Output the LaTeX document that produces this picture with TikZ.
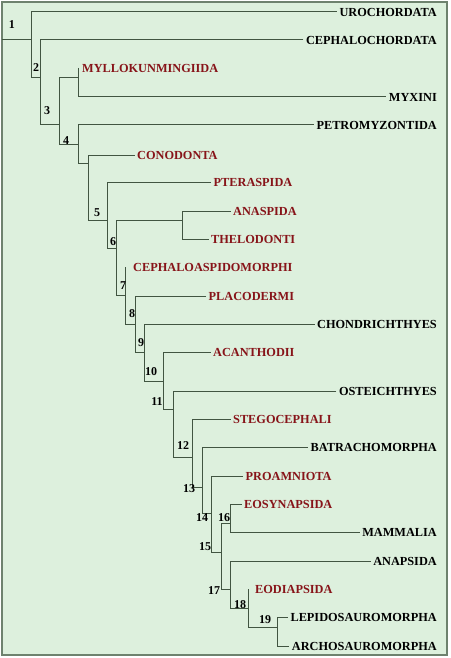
\documentclass[tikz,border=0pt]{standalone}
\usepackage{fontspec}
\setmainfont{Liberation Serif}
\definecolor{bgcol}{RGB}{221,240,221}
\definecolor{framecol}{RGB}{110,130,110}
\definecolor{linecol}{RGB}{65,85,65}
\definecolor{redtax}{RGB}{135,20,25}
\tikzset{
  branch/.style={draw=linecol, line width=1pt},
  taxon/.style={font=\bfseries\fontsize{12.3}{14}\selectfont, inner xsep=2.5pt, inner ysep=0pt},
  fossil/.style={taxon, text=redtax, anchor=west},
  living/.style={taxon, anchor=east},
  num/.style={font=\bfseries\fontsize{12}{14}\selectfont, inner sep=0pt}
}
\begin{document}
\begin{tikzpicture}[x=1pt,y=-1pt]
  \useasboundingbox (0,0) rectangle (450,658);
  \draw [draw=framecol, fill=bgcol, line width=2pt] (2,2) rectangle (447,655);
  % taxa
  \node [living] (URO)   at (439.5,12)  {UROCHORDATA};
  \node [living] (CEPH)  at (439.5,40)  {CEPHALOCHORDATA};
  \node [living] (MYX)   at (439.5,97)  {MYXINI};
  \node [living] (PETRO) at (439.5,125) {PETROMYZONTIDA};
  \node [living] (CHOND) at (439.5,324) {CHONDRICHTHYES};
  \node [living] (OSTE)  at (439.5,391) {OSTEICHTHYES};
  \node [living] (BATR)  at (439.5,447) {BATRACHOMORPHA};
  \node [living] (MAMM)  at (439.5,532) {MAMMALIA};
  \node [living] (ANAP)  at (439.5,561) {ANAPSIDA};
  \node [living] (LEPI)  at (439.5,617) {LEPIDOSAUROMORPHA};
  \node [living] (ARCH)  at (439.5,646) {ARCHOSAUROMORPHA};
  \node [fossil] (MYLLO) at (79.5,68)   {MYLLOKUNMINGIIDA};
  \node [fossil] (CONO)  at (134.5,155) {CONODONTA};
  \node [fossil] (PTER)  at (211,182)   {PTERASPIDA};
  \node [fossil] (ANAS)  at (230.5,211) {ANASPIDA};
  \node [fossil] (THEL)  at (208.5,239) {THELODONTI};
  \node [fossil] (CEPHA) at (130.5,267) {CEPHALOASPIDOMORPHI};
  \node [fossil] (PLAC)  at (206,296)   {PLACODERMI};
  \node [fossil] (ACAN)  at (210.5,352) {ACANTHODII};
  \node [fossil] (STEGO) at (230.5,419) {STEGOCEPHALI};
  \node [fossil] (PROA)  at (243,476)   {PROAMNIOTA};
  \node [fossil] (EOSY)  at (241.5,504) {EOSYNAPSIDA};
  \node [fossil] (EODIA) at (252.5,589) {EODIAPSIDA};
  % branch points
  \coordinate (root) at (2,40);
  \coordinate (t1) at (31,12);   \coordinate (b1) at (31,78);
  \coordinate (t2) at (40,40);   \coordinate (b2) at (40,125);
  \coordinate (t3) at (59,78);   \coordinate (b3) at (59,144);
  \coordinate (ta) at (78,68);   \coordinate (ba) at (78,97);
  \coordinate (t4) at (78,125);  \coordinate (b4) at (78,163);
  \coordinate (tb) at (88,155);  \coordinate (bb) at (88,220);
  \coordinate (t5) at (107,182); \coordinate (b5) at (107,248);
  \coordinate (t6) at (116,220); \coordinate (b6) at (116,295);
  \coordinate (tc) at (182,211); \coordinate (bc) at (182,239);
  \coordinate (t7) at (125,267); \coordinate (b7) at (125,324);
  \coordinate (t8) at (135,296); \coordinate (b8) at (135,352);
  \coordinate (t9) at (144,324); \coordinate (b9) at (144,381);
  \coordinate (t10) at (163,352); \coordinate (b10) at (163,409);
  \coordinate (t11) at (173,391); \coordinate (b11) at (173,457);
  \coordinate (t12) at (192,419); \coordinate (b12) at (192,487);
  \coordinate (t13) at (202,447); \coordinate (b13) at (202,513);
  \coordinate (t14) at (211,476); \coordinate (b14) at (211,552);
  \coordinate (t15) at (221,523); \coordinate (b15) at (221,589);
  \coordinate (t16) at (230,504); \coordinate (b16) at (230,532);
  \coordinate (t17) at (230,561); \coordinate (b17) at (230,608);
  \coordinate (t18) at (248,589); \coordinate (b18) at (248,627);
  \coordinate (t19) at (277,617); \coordinate (b19) at (277,646);
  % branches
  \draw [branch] (root) -- (root -| t1);
  \draw [branch] (URO.west) -| (b1) -- (b1 -| t2);
  \draw [branch] (CEPH.west) -| (b2) -- (b2 -| t3);
  \draw [branch] (t3 -| ta) -| (b3) -- (b3 -| t4);
  \draw [branch] (ta) -- (ba) -- (MYX.west);
  \draw [branch] (PETRO.west) -| (b4) -- (b4 -| tb);
  \draw [branch] (CONO.west) -| (bb) -- (bb -| t5);
  \draw [branch] (PTER.west) -| (b5) -- (b5 -| t6);
  \draw [branch] (t6 -| tc) -| (b6) -- (b6 -| t7);
  \draw [branch] (ANAS.west) -| (bc) -- (THEL.west);
  \draw [branch] (t7) -- (b7) -- (b7 -| t8);
  \draw [branch] (PLAC.west) -| (b8) -- (b8 -| t9);
  \draw [branch] (CHOND.west) -| (b9) -- (b9 -| t10);
  \draw [branch] (ACAN.west) -| (b10) -- (b10 -| t11);
  \draw [branch] (OSTE.west) -| (b11) -- (b11 -| t12);
  \draw [branch] (STEGO.west) -| (b12) -- (b12 -| t13);
  \draw [branch] (BATR.west) -| (b13) -- (b13 -| t14);
  \draw [branch] (PROA.west) -| (b14) -- (b14 -| t15);
  \draw [branch] (t15 -| t16) -| (b15) -- (b15 -| t17);
  \draw [branch] (EOSY.west) -| (b16) -- (MAMM.west);
  \draw [branch] (ANAP.west) -| (b17) -- (b17 -| t18);
  \draw [branch] (t18) -- (b18) -- (b18 -| t19);
  \draw [branch] (LEPI.west) -| (b19) -- (ARCH.west);
  % node numbers
  \node [num] (n1) at (12,25) {1};
  \node [num] (n2) at (36,68) {2};
  \node [num] (n3) at (47,111) {3};
  \node [num] (n4) at (66,141) {4};
  \node [num] (n5) at (97,213) {5};
  \node [num] (n6) at (113,242) {6};
  \node [num] (n7) at (123,286) {7};
  \node [num] (n8) at (132,314) {8};
  \node [num] (n9) at (141,343) {9};
  \node [num] (n10) at (151,372) {10};
  \node [num] (n11) at (157,402) {11};
  \node [num] (n12) at (183,446) {12};
  \node [num] (n13) at (189,489) {13};
  \node [num] (n14) at (202,518) {14};
  \node [num] (n15) at (205,547) {15};
  \node [num] (n16) at (224,518) {16};
  \node [num] (n17) at (214,591) {17};
  \node [num] (n18) at (240,605) {18};
  \node [num] (n19) at (265,620) {19};
\end{tikzpicture}
\end{document}
